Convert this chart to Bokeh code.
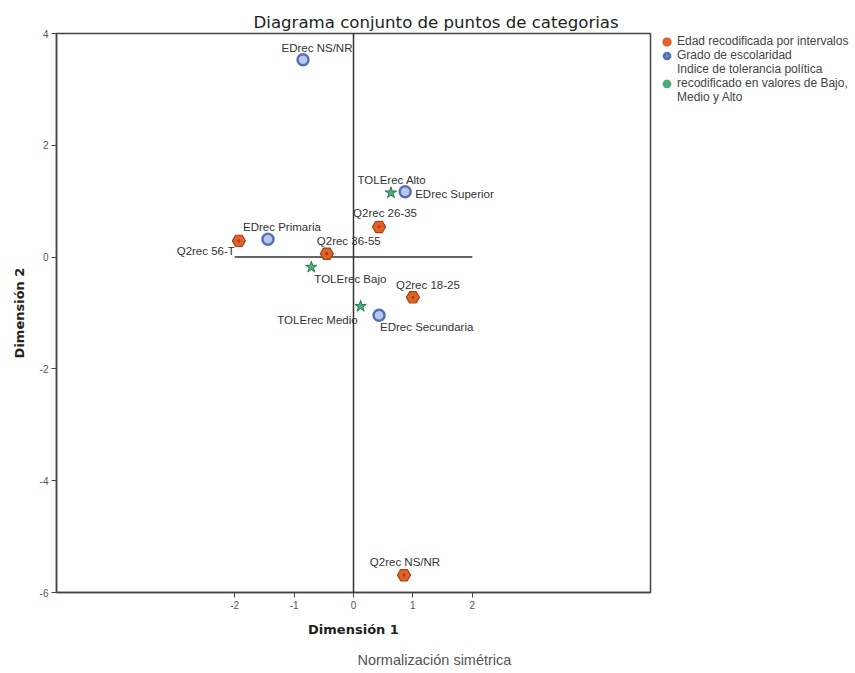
from bokeh.plotting import figure
from bokeh.models import ColumnDataSource, FixedTicker, Span, Legend, LegendItem, Title
from bokeh.embed import file_html
from bokeh.resources import INLINE
from bokeh.core.properties import value

# ---------------- data ----------------
edad_labels = ["Q2rec 18-25", "Q2rec 26-35", "Q2rec 36-55", "Q2rec 56-T", "Q2rec NS/NR"]
edad_dim1 = [1.00, 0.43, -0.45, -1.93, 0.85]
edad_dim2 = [-0.72, 0.54, 0.06, 0.29, -5.69]

esc_labels = ["EDrec Primaria", "EDrec Secundaria", "EDrec Superior", "EDrec NS/NR"]
esc_dim1 = [-1.44, 0.43, 0.87, -0.85]
esc_dim2 = [0.32, -1.04, 1.17, 3.53]

tol_labels = ["TOLErec Bajo", "TOLErec Medio", "TOLErec Alto"]
tol_dim1 = [-0.71, 0.12, 0.63]
tol_dim2 = [-0.18, -0.88, 1.15]

legend_edad = "Edad recodificada por intervalos"
legend_esc = "Grado de escolaridad"
legend_tol_lines = ["Indice de tolerancia política",
                    "recodificado en valores de Bajo,",
                    "Medio y Alto"]
x_ticks = [-2, -1, 0, 1, 2]
y_ticks = [-6, -4, -2, 0, 2, 4]

# ---------------- label placement (style) ----------------
edad_style = dict(dx=[15, 6, 22, -4, 1], dy=[-12, -14, -13, 10, -13],
                  align=["center", "center", "center", "right", "center"])
esc_style = dict(dx=[14, 1, 10, 14], dy=[-12, 12, 2, -12],
                 align=["center", "left", "left", "center"])
tol_style = dict(dx=[3, -3, 1], dy=[12, 14, -13],
                 align=["left", "right", "center"])

LABEL_FONT = "Liberation Sans"
ORANGE, ORANGE_EDGE = "#E2622B", "#A8400F"
BLUE_FILL, BLUE_EDGE = "#B9C7EA", "#5470B8"
GREEN, GREEN_EDGE = "#4AAA7A", "#2E7D55"
NAN = float("nan")

p = figure(
    x_range=(-5, 5), y_range=(-6, 4),
    frame_width=594, frame_height=559,
    output_backend="svg", toolbar_location=None,
    min_border_left=56, min_border_top=33, min_border_right=0, min_border_bottom=0,
)
p.title.text = "Diagrama conjunto de puntos de categorias"
p.title.align = "left"
p.title.offset = 197
p.title.text_font = "DejaVu Sans"
p.title.text_font_size = "16.6px"
p.title.text_font_style = "normal"
p.title.text_color = "#222222"
p.title.standoff = 3

p.xgrid.visible = False
p.ygrid.visible = False
p.outline_line_color = "#444444"
p.outline_line_width = 1.5
p.background_fill_color = "white"
p.border_fill_color = "white"

for ax in (p.xaxis[0], p.yaxis[0]):
    ax.axis_line_color = "#444444"
    ax.axis_line_width = 1.5
    ax.major_tick_in = 0
    ax.major_tick_out = 5
    ax.major_tick_line_color = "#444444"
    ax.minor_tick_line_color = None
    ax.major_label_text_font = LABEL_FONT
    ax.major_label_text_font_size = "10px"
    ax.major_label_text_color = "#555555"
    ax.axis_label_text_font = "DejaVu Sans"
    ax.axis_label_text_font_style = "bold"
    ax.axis_label_text_font_size = "13px"
    ax.axis_label_text_color = "#222222"

p.xaxis.ticker = FixedTicker(ticks=x_ticks)
p.yaxis.ticker = FixedTicker(ticks=y_ticks)
p.xaxis.major_label_overrides = {t: str(t) for t in x_ticks}
p.yaxis.major_label_overrides = {t: str(t) for t in y_ticks}
p.xaxis.axis_label = "Dimensión 1"
p.yaxis.axis_label = "Dimensión 2"
p.xaxis.major_label_standoff = 3
p.yaxis.major_label_standoff = 3
p.xaxis.axis_label_standoff = 10
p.yaxis.axis_label_standoff = 10
p.yaxis.major_label_orientation = "horizontal"

# reference lines
p.add_layout(Span(location=0, dimension="height", line_color="#333333", line_width=1.5))
p.line(x=[x_ticks[0], x_ticks[-1]], y=[0, 0], line_color="#333333", line_width=1.5)

def make_src(xs, ys, labels, style):
    return ColumnDataSource(dict(x=xs, y=ys, label=labels, dx=style["dx"], dy=style["dy"], align=style["align"]))

s_edad = make_src(edad_dim1, edad_dim2, edad_labels, edad_style)
s_esc = make_src(esc_dim1, esc_dim2, esc_labels, esc_style)
s_tol = make_src(tol_dim1, tol_dim2, tol_labels, tol_style)

p.scatter("x", "y", source=s_edad, marker="hex_dot", size=13,
          fill_color=ORANGE, line_color=ORANGE_EDGE, line_width=1.2)
p.scatter("x", "y", source=s_esc, marker="circle", size=11,
          fill_color=BLUE_FILL, line_color=BLUE_EDGE, line_width=2.5)
p.scatter("x", "y", source=s_tol, marker="star", size=12,
          fill_color=GREEN, line_color=GREEN_EDGE, line_width=1)

# legend-only renderers (a single NaN row, never drawn on the plot) with heavier outlines
lg_edad = p.scatter(x=[NAN], y=[NAN], marker="hex", fill_color=ORANGE, line_color=ORANGE, line_width=4.5)
lg_esc = p.scatter(x=[NAN], y=[NAN], marker="circle", fill_color=BLUE_FILL, line_color=BLUE_EDGE, line_width=3.5)
lg_tol = p.scatter(x=[NAN], y=[NAN], marker="hex", fill_color=GREEN, line_color=GREEN, line_width=4)
lg_blank = p.scatter(x=[NAN], y=[NAN], fill_alpha=0, line_alpha=0)

for src in (s_edad, s_esc, s_tol):
    p.text("x", "y", text="label", source=src, x_offset="dx", y_offset="dy",
           text_align="align", text_baseline="middle",
           text_font=value(LABEL_FONT), text_font_size="11.5px", text_color="#333333")

legend = Legend(
    items=[LegendItem(label=legend_edad, renderers=[lg_edad]),
           LegendItem(label=legend_esc, renderers=[lg_esc]),
           LegendItem(label=legend_tol_lines[0], renderers=[lg_blank]),
           LegendItem(label=legend_tol_lines[1], renderers=[lg_tol]),
           LegendItem(label=legend_tol_lines[2], renderers=[lg_blank])],
    location=(10, 488),
    label_text_font=LABEL_FONT, label_text_font_size="12px", label_text_color="#444444",
    label_standoff=4, glyph_width=13, glyph_height=13, spacing=0, padding=0, margin=0,
    label_height=12, border_line_color=None, background_fill_alpha=0,
)
p.add_layout(legend, "right")

sub = Title(text="Normalización simétrica", align="left", offset=301,
            text_font=LABEL_FONT, text_font_size="14.5px", text_font_style="normal",
            text_color="#555555", standoff=20)
p.add_layout(sub, "below")

open("out.html", "w").write(file_html(p, INLINE))
